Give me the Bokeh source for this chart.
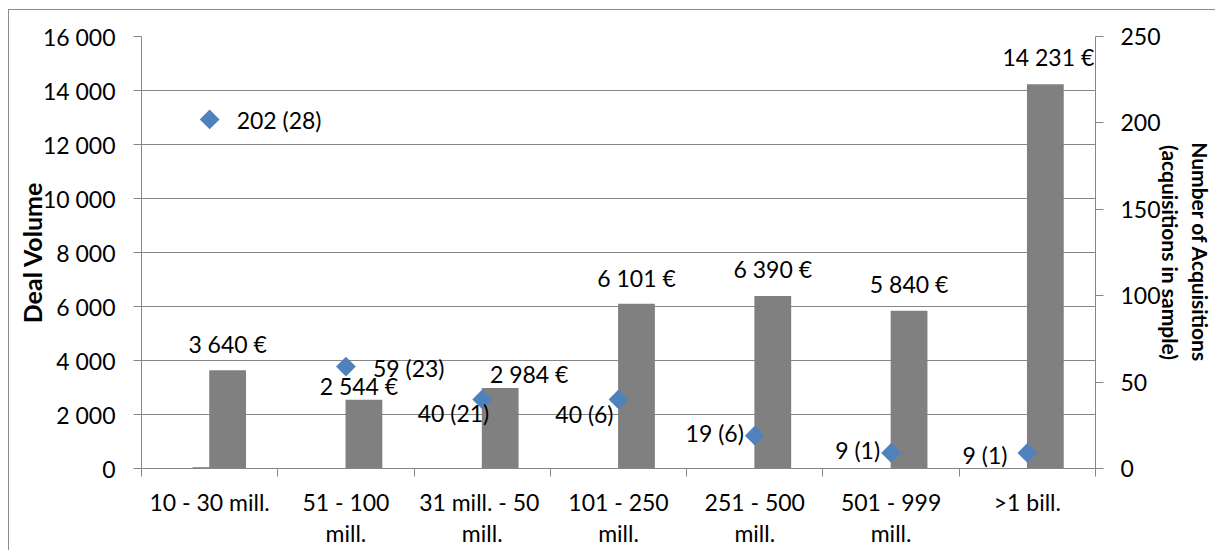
from math import pi

from bokeh.core.properties import value
from bokeh.embed import file_html
from bokeh.models import ColumnDataSource, FixedTicker, LinearAxis, Range1d
from bokeh.plotting import figure
from bokeh.resources import INLINE

# ---- data ---------------------------------------------------------------
categories = [
    "10 - 30 mill.",
    "51 - 100\nmill.",
    "31 mill.  - 50\nmill.",
    "101 - 250\nmill.",
    "251 - 500\nmill.",
    "501 - 999\nmill.",
    ">1 bill.",
]
deal_volume = [3640, 2544, 2984, 6101, 6390, 5840, 14231]
secondary_series = [50, 0, 0, 0, 0, 0, 0]
acquisitions = [202, 59, 40, 40, 19, 9, 9]
acquisitions_in_sample = [28, 23, 21, 6, 6, 1, 1]

left_ticks = [0, 2000, 4000, 6000, 8000, 10000, 12000, 14000, 16000]
left_tick_labels = ["0", "2 000", "4 000", "6 000", "8 000", "10 000",
                    "12 000", "14 000", "16 000"]
right_ticks = [0, 50, 100, 150, 200, 250]

# ---- label placement (pixels) ------------------------------------------
bar_label_dx = [0, -5, 29, 0, 0, 0, 3]
bar_label_dy = [-26, -14, -14, -26, -27, -27, -27]
pt_label_dx = [27, 27, 7, -5, -11, -11, -20]
pt_label_dy = [1, 1, 14, 15, -3, -3, 2]
pt_label_align = ["left", "left", "right", "right", "right", "right", "right"]

FONT = "Lato"
GRID = "#868686"
n = len(categories)
centers = [i + 0.5 for i in range(n)]

p = figure(
    width=1207, height=541,
    x_range=Range1d(0, n), y_range=Range1d(0, 16000),
    output_backend="svg", toolbar_location=None,
    min_border_left=132, min_border_right=121,
    min_border_top=26, min_border_bottom=83,
)
p.extra_y_ranges = {"count": Range1d(0, 250)}
p.margin = (9, 0, 0, 8)
p.styles = {"border-left": "1px solid #8c8c8c", "border-top": "1px solid #8c8c8c"}
p.outline_line_color = None
p.background_fill_color = "white"
p.border_fill_color = "white"

# horizontal grid
p.xgrid.visible = False
p.ygrid.ticker = FixedTicker(ticks=left_ticks)
p.ygrid.grid_line_color = GRID
p.ygrid.grid_line_width = 1

# left axis
ya = p.yaxis[0]
ya.ticker = FixedTicker(ticks=left_ticks)
ya.major_label_overrides = dict(zip(left_ticks, left_tick_labels))
ya.axis_label = "Deal Volume"
ya.axis_label_text_font = FONT
ya.axis_label_text_font_style = "bold"
ya.axis_label_text_font_size = "25px"
ya.axis_label_standoff = -7

# bottom axis: labels at category centres, tick marks at boundaries
xa = p.xaxis[0]
xa.ticker = FixedTicker(ticks=centers, minor_ticks=list(range(n + 1)))
xa.major_label_overrides = dict(zip(centers, categories))
xa.major_tick_out = 0
xa.major_tick_in = 0
xa.minor_tick_out = 8
xa.minor_tick_in = 0
xa.major_label_standoff = 11
xa.major_label_text_line_height = 1.12

# right axis
ra = LinearAxis(y_range_name="count", ticker=FixedTicker(ticks=right_ticks))
ra.axis_label = "Number of Acquisitions\n(acquisitions in sample)"
ra.axis_label_text_font = FONT
ra.axis_label_text_font_style = "bold"
ra.axis_label_text_font_size = "21px"
ra.axis_label_standoff = -6
p.add_layout(ra, "right")

for ax in (ya, xa, ra):
    ax.axis_line_color = GRID
    ax.major_tick_line_color = GRID
    ax.minor_tick_line_color = GRID
    ax.major_label_text_font = FONT
    ax.major_label_text_font_size = "23px"
    ax.major_label_text_color = "black"
    ax.axis_label_text_color = "black"
for ax in (ya, ra):
    ax.major_tick_out = 8
    ax.major_tick_in = 0
    ax.minor_tick_out = 0
    ax.minor_tick_in = 0
ya.major_label_standoff = 18
ra.major_label_standoff = 17

# bars
bars = ColumnDataSource(dict(
    x=[c + 0.132 for c in centers],
    top=deal_volume,
    label=[f"{v:,}".replace(",", " ") + " €" for v in deal_volume],
    dx=bar_label_dx,
    dy=bar_label_dy,
))
p.vbar(x=centers, top=secondary_series, width=0.25, bottom=0,
       fill_color="#8064A2", line_color=None)
p.vbar(x="x", top="top", width=0.27, bottom=0, source=bars,
       fill_color="#808080", line_color=None)
p.text(x="x", y="top", text="label", source=bars,
       x_offset="dx", y_offset="dy",
       text_align="center", text_baseline="middle",
       text_font=value(FONT), text_font_size="23px", text_color="black")

# acquisition counts on the secondary axis
pts = ColumnDataSource(dict(
    x=centers,
    y=acquisitions,
    label=[f"{a} ({s})" for a, s in zip(acquisitions, acquisitions_in_sample)],
    dx=pt_label_dx,
    dy=pt_label_dy,
    align=pt_label_align,
))
p.scatter(x="x", y="y", source=pts, y_range_name="count",
          marker="square", angle=pi / 4, size=14,
          fill_color="#4F81BD", line_color=None)
p.text(x="x", y="y", text="label", source=pts, y_range_name="count",
       x_offset="dx", y_offset="dy", text_align="align",
       text_baseline="middle",
       text_font=value(FONT), text_font_size="23px", text_color="black")

open("out.html", "w").write(file_html(p, INLINE))
